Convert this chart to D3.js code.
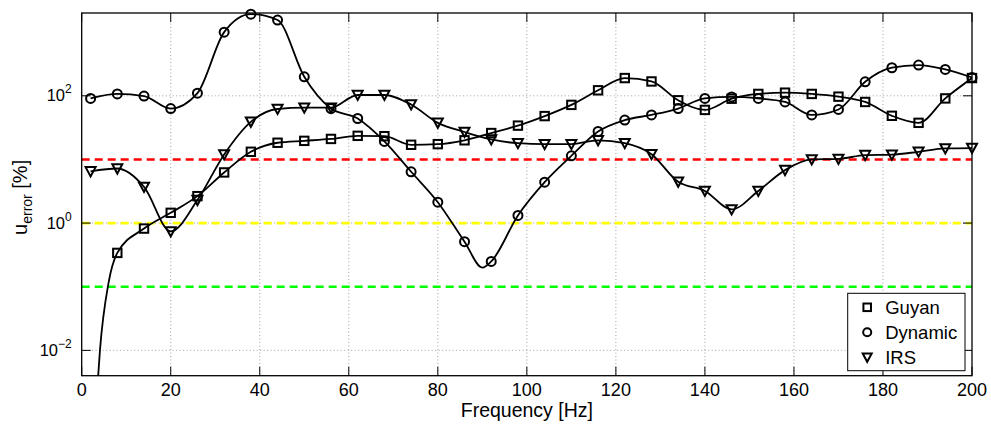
<!DOCTYPE html>
<html lang="en">
<head>
    <meta charset="UTF-8">
    <title>u_error vs Frequency</title>
    <script src="https://d3js.org/d3.v7.min.js"></script>
    <style>
        body { margin: 0; background: #fff; }
        text { font-family: "Liberation Sans", Arial, Helvetica, sans-serif; fill: #000; }
    </style>
</head>
<body>
    <svg width="991" height="424"></svg>

    <script>
        // Marker frequencies (Hz)
        const freq = [2, 8, 14, 20, 26, 32, 38, 44, 50, 56, 62, 68, 74, 80, 86, 92, 98,
                      104, 110, 116, 122, 128, 134, 140, 146, 152, 158, 164, 170, 176, 182, 188, 194, 200];

        // Error values [%]
        const guyan = [null, 0.34, 0.82, 1.45, 2.65, 6.25, 13.2, 18.3, 19.6, 21, 23.5, 23.2, 17, 17.4, 20, 26, 34,
                       48, 72, 122, 190, 168, 85, 60, 90, 107, 112, 107, 97, 80, 48.5, 37.6, 91, 190];
        const dynamic = [91, 107, 99, 63, 110, 1000, 1920, 1550, 199, 63, 44, 19.2, 6.4, 2.13, 0.51, 0.25, 1.32,
                         4.4, 11.4, 27.5, 41.5, 50, 63, 91, 96, 91, 80, 50, 61, 166, 276, 304, 260, 194];
        const irs = [6.5, 7.2, 3.7, 0.74, 2.3, 12, 39, 62, 65, 65, 103, 103, 73, 37.6, 27, 20.6, 18,
                     17.4, 17.4, 20, 18, 12.1, 4.45, 3.2, 1.64, 3.2, 6.8, 10, 10.2, 11.7, 11.9, 13.2, 14.9, 15.1];

        // Extra points the curves pass through between markers
        const guyanExtra = [[3.5, 0.0025], [4.1, 0.01], [6, 0.112]];
        const dynamicExtra = [[90, 0.2]];

        // Threshold levels
        const thresholds = [
            {value: 10, color: "#ff0000"},
            {value: 1, color: "#ffff00"},
            {value: 0.1, color: "#00ff00"}
        ];

        const xTicks = [0, 20, 40, 60, 80, 100, 120, 140, 160, 180, 200];
        const yTickExp = [-2, 0, 2];

        const width = 991, height = 424;
        const margin = {top: 13, right: 19, bottom: 48.3, left: 81.7};
        const plotW = width - margin.left - margin.right;
        const plotH = height - margin.top - margin.bottom;

        const svg = d3.select("svg");
        const g = svg.append("g").attr("transform", `translate(${margin.left},${margin.top})`);

        const x = d3.scaleLinear().domain([0, 200]).range([0, plotW]);
        const y = d3.scaleLog().domain([0.004, 2000]).range([plotH, 0]);

        g.append("clipPath").attr("id", "clip")
            .append("rect").attr("width", plotW).attr("height", plotH);

        // Grid
        const grid = g.append("g").attr("stroke", "#a0a0a0").attr("stroke-width", 1)
            .attr("stroke-dasharray", "1,2.5");
        grid.selectAll(".gx").data(xTicks.slice(1, -1)).enter().append("line")
            .attr("x1", d => x(d)).attr("x2", d => x(d)).attr("y1", 0).attr("y2", plotH);
        grid.selectAll(".gy").data(yTickExp).enter().append("line")
            .attr("x1", 0).attr("x2", plotW)
            .attr("y1", d => y(Math.pow(10, d))).attr("y2", d => y(Math.pow(10, d)));

        // Threshold lines
        g.selectAll(".thr").data(thresholds).enter().append("line")
            .attr("x1", 0).attr("x2", plotW)
            .attr("y1", d => y(d.value)).attr("y2", d => y(d.value))
            .attr("stroke", d => d.color).attr("stroke-width", 2.6)
            .attr("stroke-dasharray", "8,5");

        // Build series
        function points(vals, extra) {
            const pts = freq.map((f, i) => [f, vals[i]]).filter(p => p[1] != null);
            return pts.concat(extra).sort((a, b) => a[0] - b[0]);
        }
        const series = [
            {name: "Guyan", marker: "square", markers: points(guyan, []), line: points(guyan, guyanExtra)},
            {name: "Dynamic", marker: "circle", markers: points(dynamic, []), line: points(dynamic, dynamicExtra)},
            {name: "IRS", marker: "triangle", markers: points(irs, []), line: points(irs, [])}
        ];

        const line = d3.line()
            .x(d => x(d[0]))
            .y(d => y(d[1]))
            .curve(d3.curveMonotoneX);

        g.append("g").attr("clip-path", "url(#clip)")
            .selectAll("path").data(series).enter().append("path")
            .attr("d", d => line(d.line))
            .attr("fill", "none").attr("stroke", "#000").attr("stroke-width", 1.8);

        function drawMarker(sel, type, size) {
            if (type === "square") {
                sel.append("rect").attr("x", -size * 0.42).attr("y", -size * 0.42)
                    .attr("width", size * 0.84).attr("height", size * 0.84);
            } else if (type === "circle") {
                sel.append("circle").attr("r", size * 0.45);
            } else {
                const h = size * 0.5;
                sel.append("path").attr("d", `M${-h},${-h * 0.85}L${h},${-h * 0.85}L0,${h}Z`);
            }
        }

        series.forEach(s => {
            const mg = g.append("g").attr("fill", "none").attr("stroke", "#000").attr("stroke-width", 2);
            s.markers.forEach(p => {
                const m = mg.append("g").attr("transform", `translate(${x(p[0])},${y(p[1])})`);
                drawMarker(m, s.marker, 10);
            });
        });

        // Axes box with inward ticks
        g.append("rect").attr("width", plotW).attr("height", plotH)
            .attr("fill", "none").attr("stroke", "#000").attr("stroke-width", 1.3);

        const tickLen = 9;
        const ticks = g.append("g").attr("stroke", "#000").attr("stroke-width", 1);
        xTicks.forEach(t => {
            ticks.append("line").attr("x1", x(t)).attr("x2", x(t)).attr("y1", plotH).attr("y2", plotH - tickLen);
            ticks.append("line").attr("x1", x(t)).attr("x2", x(t)).attr("y1", 0).attr("y2", tickLen);
        });
        yTickExp.forEach(e => {
            const yy = y(Math.pow(10, e));
            ticks.append("line").attr("x1", 0).attr("x2", tickLen).attr("y1", yy).attr("y2", yy);
            ticks.append("line").attr("x1", plotW).attr("x2", plotW - tickLen).attr("y1", yy).attr("y2", yy);
        });

        // Tick labels
        g.selectAll(".xl").data(xTicks).enter().append("text")
            .attr("x", d => x(d)).attr("y", plotH + 20.5)
            .attr("text-anchor", "middle").attr("font-size", 18)
            .text(d => d);

        yTickExp.forEach(e => {
            const t = g.append("text")
                .attr("x", -10).attr("y", y(Math.pow(10, e)) + 5.5)
                .attr("text-anchor", "end").attr("font-size", 16.5);
            t.append("tspan").text("10");
            t.append("tspan").attr("dy", -8).attr("font-size", 12).text(e === 0 ? "0" : (e < 0 ? "\u2212" + (-e) : e));
        });

        // Axis labels
        g.append("text").attr("x", plotW / 2).attr("y", plotH + 41.5)
            .attr("text-anchor", "middle").attr("font-size", 19.5)
            .text("Frequency [Hz]");

        const yl = svg.append("text")
            .attr("transform", `translate(27,${margin.top + plotH / 2 + 3}) rotate(-90)`)
            .attr("text-anchor", "middle").attr("font-size", 20);
        yl.append("tspan").text("u");
        yl.append("tspan").attr("dy", 5).attr("font-size", 14).text("error");
        yl.append("tspan").attr("dy", -5).text(" [%]");

        // Legend
        const lg = svg.append("g").attr("transform", "translate(847.7,293.3)");
        lg.append("rect").attr("width", 117.3).attr("height", 77.4)
            .attr("fill", "#fff").attr("stroke", "#000").attr("stroke-width", 1);
        series.forEach((s, i) => {
            const row = lg.append("g").attr("transform", `translate(0,${14 + i * 25})`);
            const m = row.append("g").attr("transform", "translate(19.5,0)")
                .attr("fill", "none").attr("stroke", "#000").attr("stroke-width", 2);
            drawMarker(m, s.marker, 9);
            row.append("text").attr("x", 37.5).attr("y", 6.5).attr("font-size", 18.5).text(s.name);
        });
    </script>
</body>
</html>
